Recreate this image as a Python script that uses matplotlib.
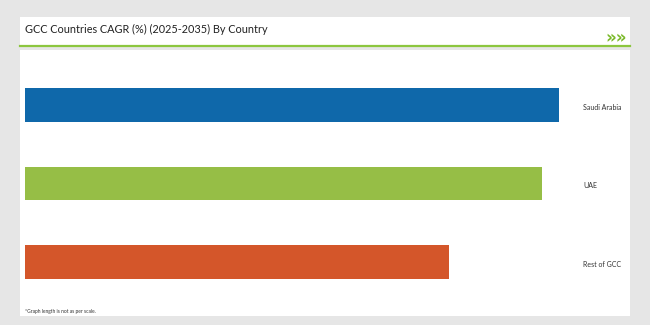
import matplotlib.pyplot as plt
from matplotlib.patches import Rectangle

countries = ["Saudi Arabia", "UAE", "Rest of GCC"]
cagr = [9.7, 9.4, 7.7]
colors = ["#0f68aa", "#96be46", "#d4562a"]

title = "GCC Countries CAGR (%) (2025-2035) By Country"
note = "*Graph length is not as per scale."

W, H = 650, 325
fig = plt.figure(figsize=(6.5, 3.25), dpi=100, facecolor="#e6e6e6")
plt.rcParams['font.family'] = ['Lato', 'DejaVu Sans']


def fx(px):
    return px / W


def fy(py):
    return 1 - py / H


# white panels
fig.patches.append(Rectangle((fx(20), fy(47)), fx(610), 30 / H, transform=fig.transFigure,
                             facecolor="white", edgecolor="none", zorder=0))
fig.patches.append(Rectangle((fx(20), fy(316)), fx(610), 266 / H, transform=fig.transFigure,
                             facecolor="white", edgecolor="none", zorder=0))
fig.lines.append(plt.Line2D([fx(20), fx(630)], [fy(46), fy(46)], transform=fig.transFigure,
                            color="#8cc63f", linewidth=1.6))

fig.text(fx(25), fy(29), title, fontsize=7.8, color="#222222", va="center", ha="left")
fig.text(fx(627), fy(38), "\u00bb\u00bb", fontsize=12, color="#7ab929", fontweight="bold",
         va="center", ha="right", family="DejaVu Sans")
fig.text(fx(25), fy(311), note, fontsize=3.5, color="#333333", va="center", ha="left")

ax = fig.add_axes([fx(25), (H - 301.5) / H, fx(550), 236 / H], zorder=5)
ax.set_facecolor("none")
ypos = list(range(len(countries)))
ax.barh(ypos, cagr, height=0.43, color=colors)
ax.set_xlim(0, 10)
ax.set_ylim(2.5, -0.5)
ax.axis("off")
for y, name in zip(ypos, countries):
    ax.text(1.015, y + 0.03, name, transform=ax.get_yaxis_transform(), fontsize=5, color="#333333",
            va="center", ha="left")

fig.savefig("out.png", dpi=100, facecolor=fig.get_facecolor())
